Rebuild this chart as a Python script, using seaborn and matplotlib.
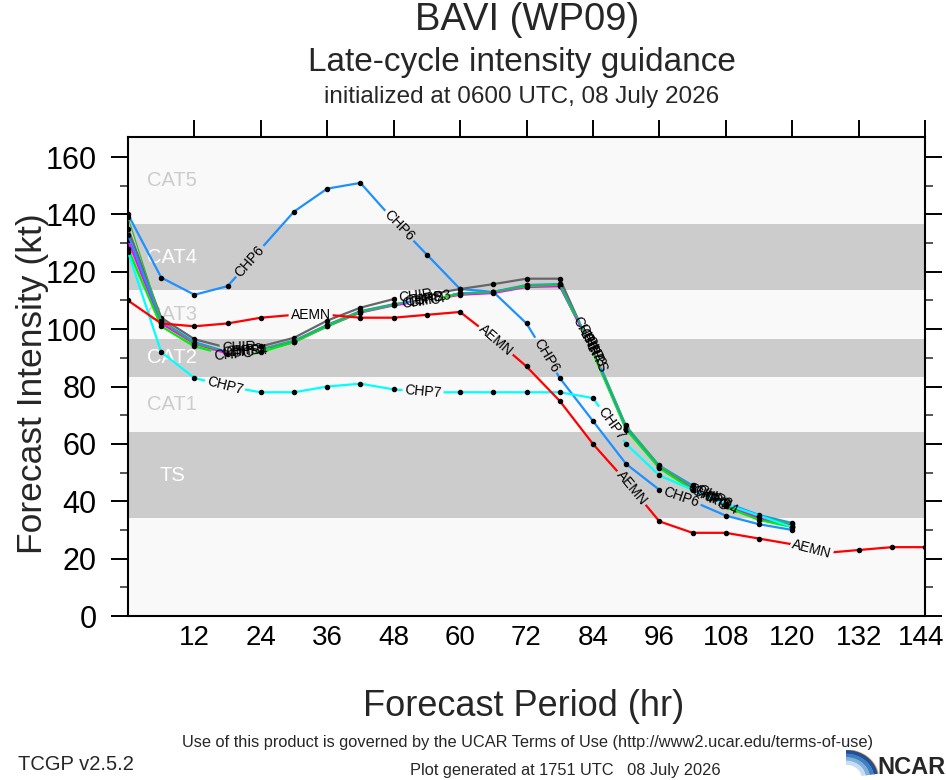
import numpy as np
import seaborn as sns
import matplotlib.pyplot as plt
from matplotlib.path import Path
from matplotlib.transforms import IdentityTransform, ScaledTranslation

# forecast hours
hours = list(range(0, 121, 6))
hours_long = list(range(0, 145, 6))

# intensity guidance (kt)
chp6 = [140, 118, 112, 115, 128, 141, 149, 151, 138, 126, 114, 113, 102, 83, 68, 53, 44, 40, 35, 32, 30]
aemn = [110, 102, 101, 102, 104, 105, 105, 104, 104, 105, 106, 97, 87, 75, 60, 47, 33, 29, 29, 27, 25,
        22, 23, 24, 24]
chp7 = [127, 92, 83, 80, 78, 78, 80, 81, 79, 78, 78, 78, 78, 78, 76, 60, 49, 44, 39, 35, 31]
chir = [135, 104, 96.5, 93.5, 94, 97, 103, 107.5, 110.5, 112, 114, 115.7, 117.6, 117.6, 92, 65.5, 52,
        44.5, 38.5, 34.5, 31.5]
chp3 = [133, 103, 95.5, 92, 93, 96, 101.5, 106.3, 108.7, 110.5, 112.5, 113, 115.4, 115.7, 93, 66, 52.4,
        45.5, 39.5, 35.2, 32.4]
chp4 = [131, 102, 95, 91.5, 92.5, 95.5, 101, 105.8, 108.3, 110, 112, 112.6, 114.7, 115, 92.5, 65.5, 51.8,
        44.5, 38.5, 34, 31.2]
chpc = [128, 101, 94, 91, 92, 95.5, 101, 106, 108.5, 110, 112.3, 113, 115, 115.5, 92, 65, 51.6, 44, 38,
        33.5, 31]
chps = [139, 103, 95, 92, 93, 96, 101.5, 106.3, 108.7, 110.5, 112.5, 113, 115.4, 115.7, 93.5, 66.5, 52.5,
        45, 39, 35, 32]

# intensity categories
cat_names = ['TS', 'CAT1', 'CAT2', 'CAT3', 'CAT4', 'CAT5']
cat_lo = [34, 64, 83.5, 96.5, 113.5, 136.5]
cat_hi = [64, 83.5, 96.5, 113.5, 136.5, 167]

x_ticks = list(range(12, 145, 12))
y_ticks = list(range(0, 161, 20))

# name, x, y, colour, width, where the inline labels go (hr)
models = [
    ('CHP6', hours, chp6, '#1e90ff', 1.6, [22, 49, 75.5, 100]),
    ('CHIR', hours, chir, '#666666', 1.6, [20, 52, 83, 104]),
    ('CHP4', hours, chp4, '#ff00ff', 1.6, [22, 54, 83.5, 107]),
    ('CHPC', hours, chpc, '#00ee00', 1.6, [19, 53, 82.5, 105]),
    ('CHP3', hours, chp3, '#1e90ff', 1.6, [21, 55, 84, 106]),
    ('CHPS', hours, chps, '#33bb33', 0.9, [20.5, 53.5, 84.5, 105.5]),
    ('CHP7', hours, chp7, '#00ffff', 1.6, [17.5, 53.3, 87.3]),
    ('AEMN', hours_long, aemn, '#ff0000', 1.6, [33, 66.5, 91, 123.5]),
]

sns.set_style('ticks')
plt.rcParams['font.family'] = ['Liberation Sans', 'DejaVu Sans']

fig = plt.figure(figsize=(9.46, 7.8), dpi=100)
ax = fig.add_axes([128 / 946, 164 / 780, 797 / 946, 479 / 780])
ax.set_facecolor('#f9f9f9')
ax.set_xlim(0, 144)
ax.set_ylim(0, 167)

for i, name in enumerate(cat_names):
    if i % 2 == 0:
        ax.axhspan(cat_lo[i], cat_hi[i], color='#cccccc', lw=0, zorder=0)
    ax.text(8, (cat_lo[i] + cat_hi[i]) / 2, name, ha='center', va='center', fontsize=14.5,
            color='white' if i % 2 == 0 else '#cccccc', zorder=1)

lines = {}
for name, x, y, col, lw, _ in models:
    sns.lineplot(x=x, y=y, ax=ax, color=col, lw=lw, marker='o', ms=3.2, mfc='k', mec='k',
                 sort=False, estimator=None, legend=False, zorder=3)
    lines[name] = ax.lines[-1]

ax.set_xticks(x_ticks)
ax.set_xticklabels([str(t) for t in x_ticks])
ax.set_yticks(y_ticks)
ax.set_yticks(list(range(10, 167, 20)), minor=True)
ax.tick_params(axis='x', which='major', direction='out', length=12.5, width=1.4, top=True,
               bottom=False, labelsize=20, pad=-6, colors='k')
ax.tick_params(axis='y', which='major', direction='out', length=12.5, width=1.4, right=True,
               labelsize=22, pad=10, colors='k')
ax.tick_params(axis='y', which='minor', direction='out', length=6, width=1.4, left=True, right=True,
               color='#555555')
for s in ax.spines.values():
    s.set_linewidth(1.5)
    s.set_color('k')
    s.set_visible(True)
ax.set_xlabel('')
ax.set_ylabel('')

fig.text(527 / 946, 1 - 20 / 780, 'BAVI (WP09)', ha='center', va='center', fontsize=27.5)
fig.text(522 / 946, 1 - 62 / 780, 'Late-cycle intensity guidance', ha='center', va='center', fontsize=24)
fig.text(522 / 946, 1 - 97 / 780, 'initialized at 0600 UTC, 08 July 2026', ha='center', va='center',
         fontsize=17.5)
fig.text(33 / 946, 1 - 384 / 780, 'Forecast Intensity (kt)', ha='center', va='center', rotation=90,
         fontsize=25.5)
fig.text(524 / 946, 1 - 706 / 780, 'Forecast Period (hr)', ha='center', va='center', fontsize=26)
fig.text(527 / 946, 1 - 742 / 780,
         'Use of this product is governed by the UCAR Terms of Use (http://www2.ucar.edu/terms-of-use)',
         ha='center', va='center', fontsize=11.8)
fig.text(18 / 946, 1 - 764 / 780, 'TCGP v2.5.2', ha='left', va='center', fontsize=14.5)
fig.text(565 / 946, 1 - 771 / 780, 'Plot generated at 1751 UTC   08 July 2026', ha='center',
         va='center', fontsize=11.8)
fig.text(911 / 946, 1 - 767 / 780, 'NCAR', ha='center', va='center', fontsize=17, fontweight='bold')

# little swoosh next to the NCAR wordmark
lax = fig.add_axes([846 / 946, 2 / 780, 34 / 946, 28 / 780])
lax.set_xlim(0, 1)
lax.set_ylim(0, 1)
lax.axis('off')
th = np.linspace(np.pi / 2, 0.15, 60)
for r, c, w in [(0.95, '#e8a040', 1.0), (0.88, '#1f4f9a', 3), (0.76, '#3f7fc0', 3),
                (0.64, '#7fb0dc', 3), (0.52, '#c8def0', 3)]:
    lax.plot(r * np.cos(th), r * 1.05 * np.sin(th), color=c, lw=w, solid_capstyle='butt')

# inline labels, with a gap cut in the labelled line
fig.canvas.draw()
renderer = fig.canvas.get_renderer()

# last x tick label sits on the figure edge, pull it in a touch
last = ax.get_xticklabels()[-1]
last.set_transform(last.get_transform() + ScaledTranslation(-0.04, 0, fig.dpi_scale_trans))

bb = ax.get_window_extent(renderer)
for name, x, y, col, lw, lab_hours in models:
    xs = np.asarray(x, float)
    ys = np.asarray(y, float)
    verts = [(bb.x0, bb.y0), (bb.x1, bb.y0), (bb.x1, bb.y1), (bb.x0, bb.y1), (bb.x0, bb.y0)]
    codes = [Path.MOVETO, Path.LINETO, Path.LINETO, Path.LINETO, Path.CLOSEPOLY]
    for h in lab_hours:
        i = min(max(np.searchsorted(xs, h) - 1, 0), len(xs) - 2)
        f = (h - xs[i]) / (xs[i + 1] - xs[i])
        v = ys[i] + f * (ys[i + 1] - ys[i])
        p0 = ax.transData.transform((xs[i], ys[i]))
        p1 = ax.transData.transform((xs[i + 1], ys[i + 1]))
        ang = np.degrees(np.arctan2(p1[1] - p0[1], p1[0] - p0[0]))
        t = ax.text(h, v, name, fontsize=10, ha='center', va='center', rotation=ang,
                    rotation_mode='anchor', zorder=6, color='k')
        w, hh, _ = renderer.get_text_width_height_descent(name, t.get_fontproperties(), ismath=False)
        c = ax.transData.transform((h, v))
        a, b = w / 2 + 2, hh / 2 + 1
        rad = np.radians(ang)
        rot = np.array([[np.cos(rad), -np.sin(rad)], [np.sin(rad), np.cos(rad)]])
        corners = [rot @ np.array(p) + c for p in [(-a, -b), (-a, b), (a, b), (a, -b)]]
        verts += [tuple(p) for p in corners] + [tuple(corners[0])]
        codes += [Path.MOVETO, Path.LINETO, Path.LINETO, Path.LINETO, Path.CLOSEPOLY]
    lines[name].set_clip_path(Path(verts, codes), IdentityTransform())

fig.savefig('out.png', dpi=100)
